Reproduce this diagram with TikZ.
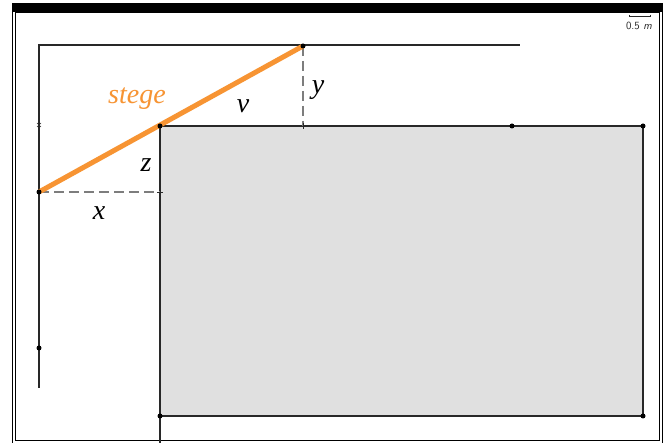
\documentclass[tikz,border=0pt]{standalone}
\usepackage{fontspec}
\setmainfont{Liberation Serif}
\definecolor{stegeorange}{RGB}{247,148,51}
\definecolor{boxgray}{RGB}{224,224,224}
\definecolor{wallgray}{RGB}{40,40,40}
\definecolor{dashgray}{RGB}{125,125,125}
\begin{document}
\begin{tikzpicture}[x=1pt, y=-1pt,
  dot/.style={circle, fill=black, inner sep=0pt, minimum size=5pt},
  wall/.style={draw=wallgray, line width=1.2pt},
  helpline/.style={draw=dashgray, line width=2.8pt, dash pattern=on 10pt off 5pt},
  lbl/.style={font=\fontsize{28}{28}\selectfont\itshape, inner sep=0pt}]
	\useasboundingbox (0,0) rectangle (667,443);
	% frame
	\fill[white] (0,0) rectangle (667,443);
	\draw[line width=0.9pt] (12,3) rectangle (662,443);
	\draw[line width=0.9pt] (15,12) rectangle (659,440);
	\fill[black] (12,3) rectangle (662,12);
	% scale bar
	\draw[line width=0.8pt, wallgray] (629,16) -- (650,16);
	\draw[line width=0.6pt, wallgray] (629,15) -- (629,17) (650,15) -- (650,17);
	\node (scale) at (639,26) {\fontsize{11}{11}\selectfont\sffamily\color{wallgray}0.5 \textit{m}};
	% points
	\coordinate (wallbottom) at (39,388);
	\coordinate (walltop) at (39,45);
	\coordinate (roofend) at (520,45);
	\coordinate (foot) at (39,192);
	\coordinate (top) at (303,46);
	\coordinate (corner) at (160,126);
	\coordinate (foothelp) at (160,192);
	\coordinate (tophelp) at (303,126);
	\coordinate (boxtr) at (643,126);
	\coordinate (boxbr) at (643,416);
	\coordinate (boxbl) at (160,416);
	\coordinate (groundend) at (160,443);
	% box
	\fill[boxgray] (corner) rectangle (boxbr);
	\draw[wall] (corner) -- (boxtr) -- (boxbr) -- (boxbl);
	\draw[wall] (corner) -- (groundend);
	% wall and roof line
	\draw[wall] (wallbottom) -- (walltop) -- (roofend);
	\draw[wall, line width=0.6pt] (37,123) -- (41,127) (37,127) -- (41,123);
	% dashed helpers
	\draw[helpline] (foot) -- (foothelp);
	\draw[helpline] (top) -- (tophelp);
	\draw[wall, line width=0.7pt] (157,192) -- (163,192) (303,123) -- (303,129);
	% ladder
	\draw[stegeorange, line width=5pt] (foot) -- (top);
	% dots
	\node[dot] (d1) at (foot) {};
	\node[dot] (d2) at (top) {};
	\node[dot] (d3) at (corner) {};
	\node[dot] (d4) at (512,126) {};
	\node[dot] (d5) at (boxtr) {};
	\node[dot] (d6) at (boxbr) {};
	\node[dot] (d7) at (boxbl) {};
	\node[dot] (d8) at (39,348) {};
	% labels
	\node[lbl, text=stegeorange] (stege) at (137,99) {stege};
	\node[lbl] (v) at (243,106) {v};
	\node[lbl] (y) at (318,90) {y};
	\node[lbl] (z) at (146,165) {z};
	\node[lbl] (x) at (99,213) {x};
\end{tikzpicture}
\end{document}
